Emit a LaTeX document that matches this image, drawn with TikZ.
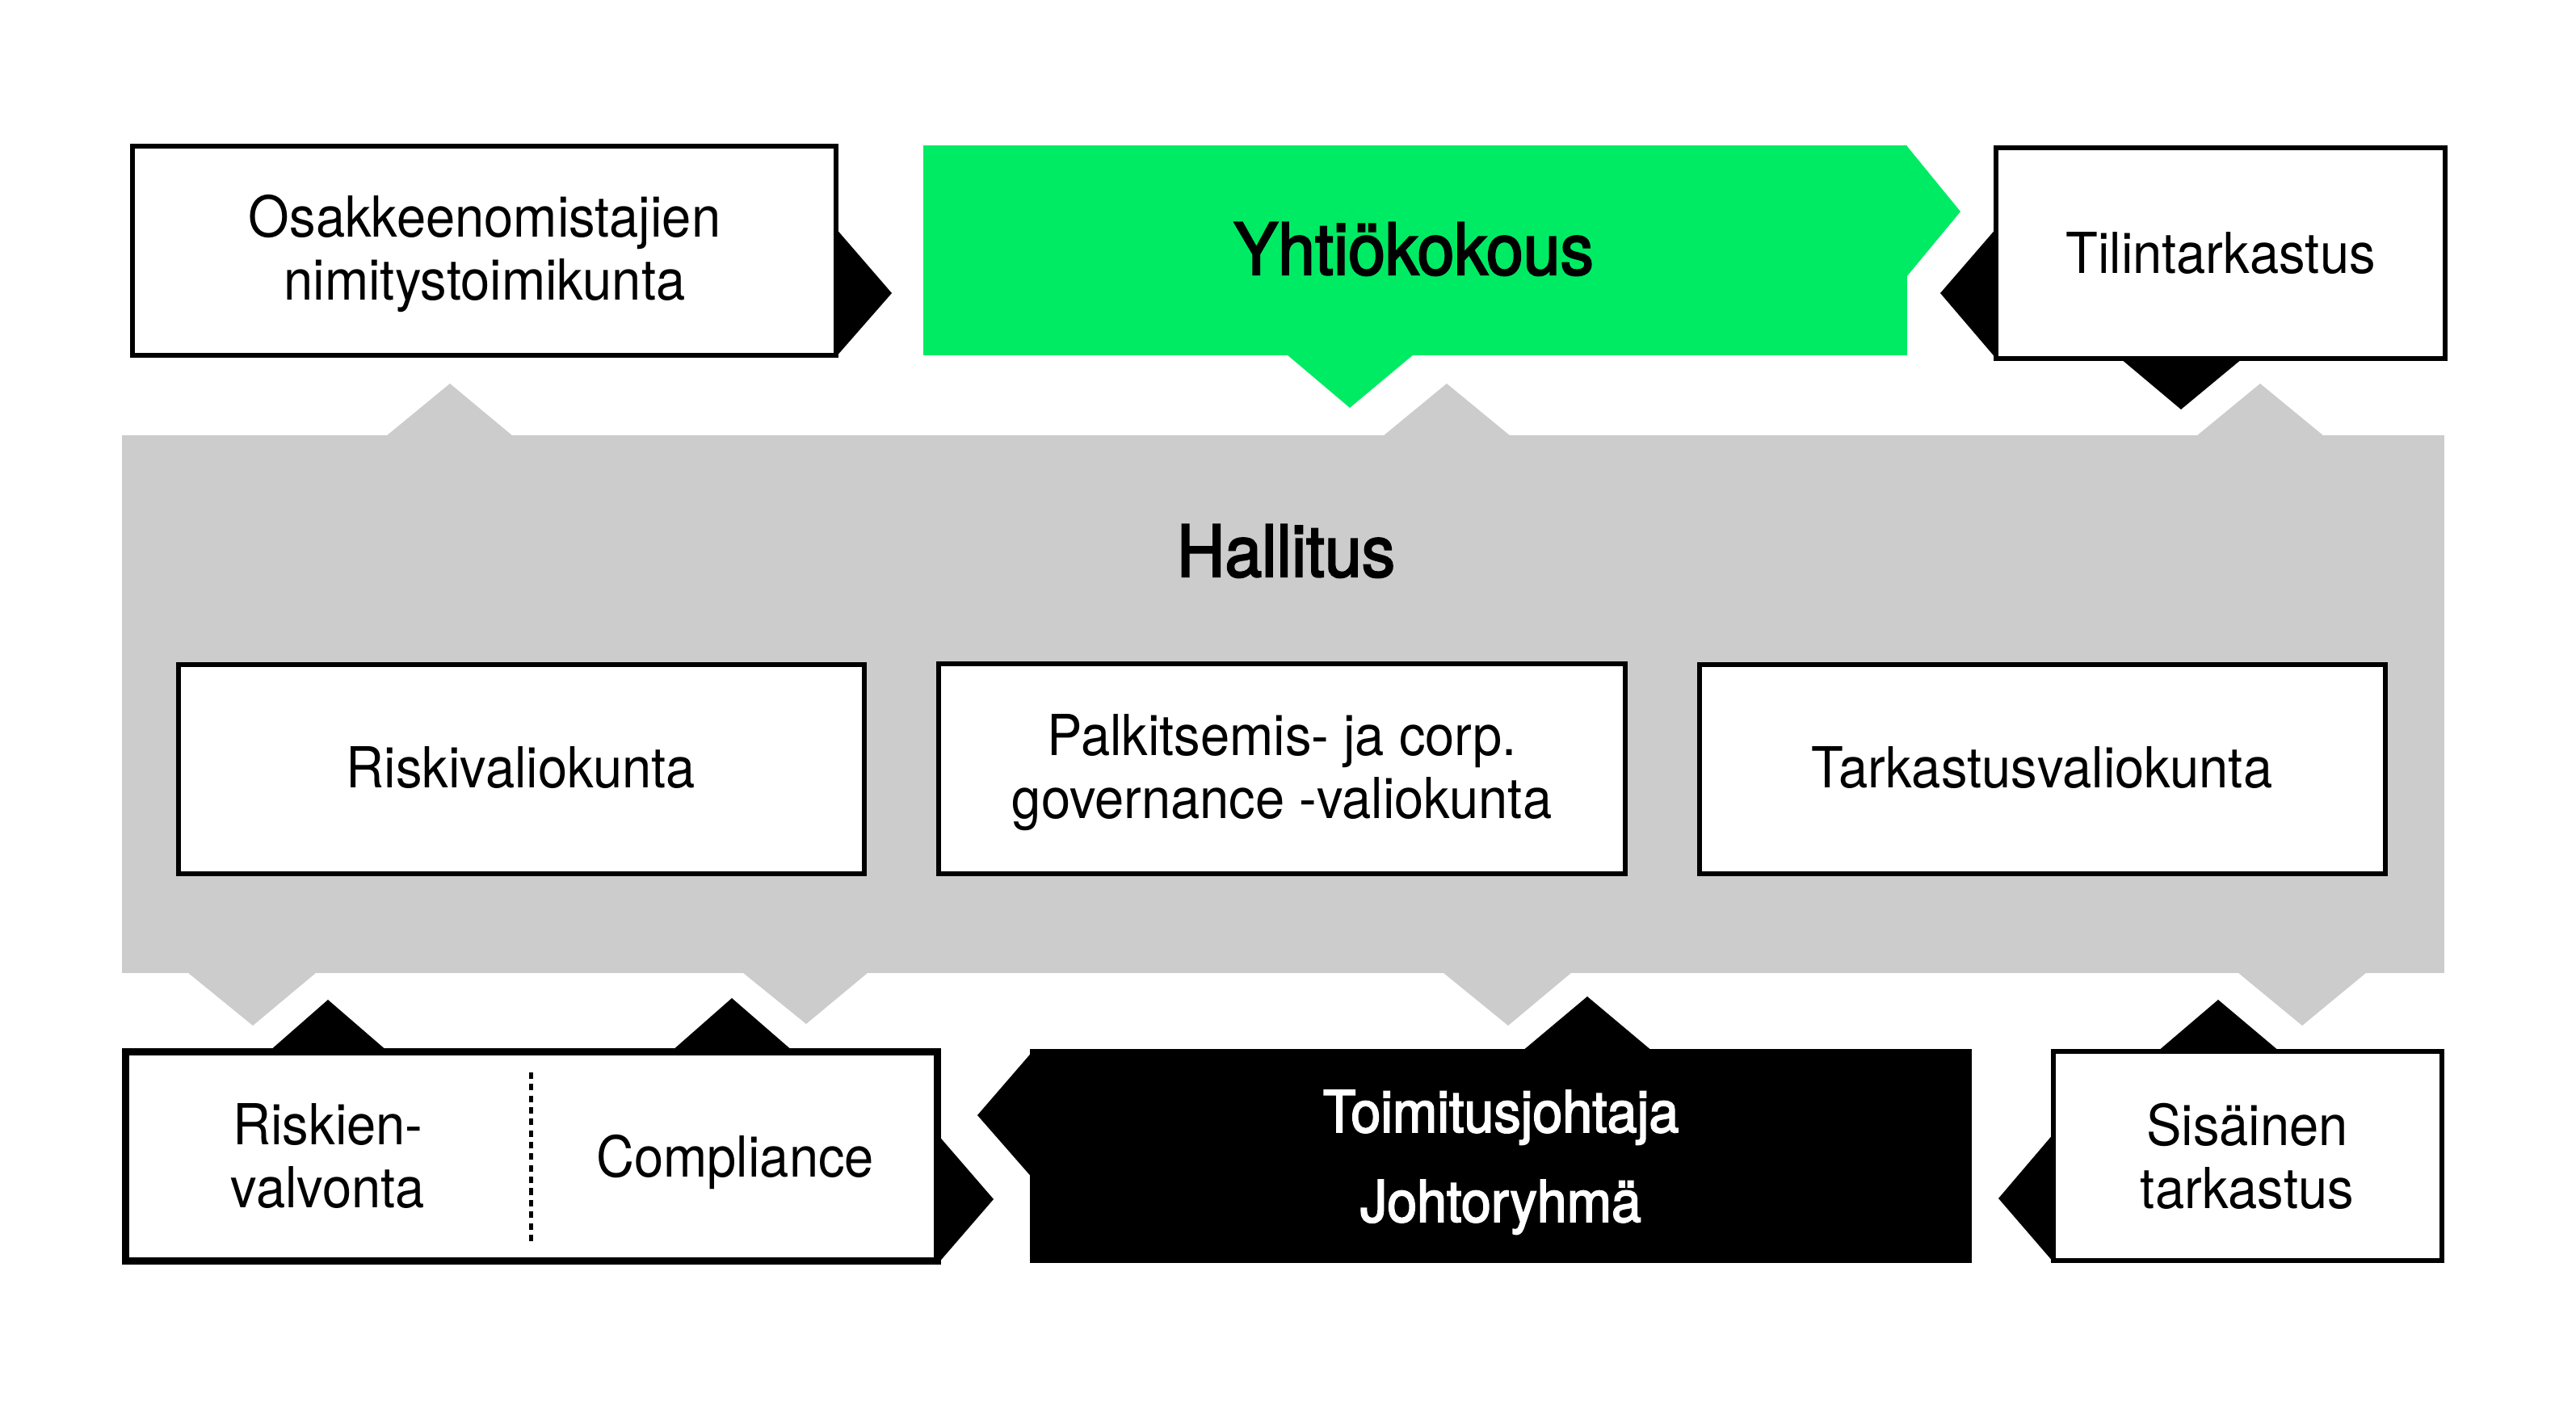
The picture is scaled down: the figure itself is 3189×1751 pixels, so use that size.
\documentclass[tikz,border=0pt]{standalone}
\usepackage{fontspec}
\setmainfont{TeX Gyre Heros}[FakeStretch=0.93]
\newfontfamily\medfont{TeX Gyre Heros}[FakeStretch=0.93,FakeBold=2.5]
\newdimen\pxu \pxu=0.01cm
\definecolor{ygreen}{HTML}{00EB64}
\definecolor{hgray}{HTML}{CCCCCC}
\begin{document}
\begin{tikzpicture}[x=0.01cm,y=-0.01cm,
  box/.style={draw=black,line width=6\pxu,fill=white,inner sep=0pt},
  lbl/.style={anchor=base,inner sep=0pt,font=\fontsize{19.9}{22}\selectfont},
  head/.style={anchor=base,inner sep=0pt,font=\medfont\fontsize{25.2}{28}\selectfont},
  lead/.style={anchor=base,inner sep=0pt,text=white,font=\medfont\fontsize{20.3}{22}\selectfont},
  tipblk/.style={fill=black},
  tipgry/.style={fill=hgray},
  tipgrn/.style={fill=ygreen},
]
\useasboundingbox (0,0) rectangle (3189,1751);

% Hallitus band
\node[fill=hgray,inner sep=0pt,minimum width=2875\pxu,minimum height=666\pxu] (hall) at (1588.5,872) {};
\fill[tipgry] (478,540) -- (557,475) -- (635,540) -- cycle;
\fill[tipgry] (1712,540) -- (1791,475) -- (1870,540) -- cycle;
\fill[tipgry] (2719,540) -- (2798,475) -- (2877,540) -- cycle;
\fill[tipgry] (232,1204) -- (313,1270) -- (392,1204) -- cycle;
\fill[tipgry] (919,1204) -- (998,1268) -- (1075,1204) -- cycle;
\fill[tipgry] (1786,1204) -- (1867,1270) -- (1946,1204) -- cycle;
\fill[tipgry] (2770,1204) -- (2850,1270) -- (2930,1204) -- cycle;

% Yhtiokokous
\node[fill=ygreen,inner sep=0pt,minimum width=1218\pxu,minimum height=260\pxu] (yht) at (1752,310) {};
\fill[tipgrn] (2360,180) -- (2427,262) -- (2360,343) -- cycle;
\fill[tipgrn] (1593,439) -- (1671,505) -- (1750,439) -- cycle;

% black tips of top row
\fill[tipblk] (1034,282) -- (1104,363) -- (1034,443) -- cycle;
\fill[tipblk] (2472,282) -- (2402,363) -- (2472,445) -- cycle;
\fill[tipblk] (2625,444) -- (2700,507) -- (2776,444) -- cycle;

% black tips of bottom row
\fill[tipblk] (333,1302) -- (406,1238) -- (480,1302) -- cycle;
\fill[tipblk] (831,1302) -- (906,1236) -- (982,1302) -- cycle;
\fill[tipblk] (1884,1302) -- (1965,1234) -- (2046,1302) -- cycle;
\fill[tipblk] (2671,1302) -- (2746,1238) -- (2822,1302) -- cycle;
\fill[tipblk] (1160,1404) -- (1230,1485) -- (1160,1566) -- cycle;
\fill[tipblk] (1280,1300) -- (1210,1381) -- (1280,1461) -- cycle;
\fill[tipblk] (2543,1403) -- (2474,1484) -- (2543,1564) -- cycle;

% boxes
\node[box,minimum width=871\pxu,minimum height=259\pxu] (osak) at (599.5,310.5) {};
\node[box,minimum width=556\pxu,minimum height=261\pxu] (tilin) at (2749,313.5) {};
\node[box,minimum width=849\pxu,minimum height=259\pxu] (riski) at (645.5,952.5) {};
\node[box,minimum width=850\pxu,minimum height=260\pxu] (palk) at (1587,951.5) {};
\node[box,minimum width=849\pxu,minimum height=259\pxu] (tark) at (2528.5,952.5) {};
\node[box,line width=9\pxu,minimum width=1005\pxu,minimum height=259\pxu] (rc) at (658,1432) {};
\node[fill=black,inner sep=0pt,minimum width=1166\pxu,minimum height=265\pxu] (toim) at (1858,1431.5) {};
\node[box,minimum width=481\pxu,minimum height=259\pxu] (sis) at (2782.5,1431.5) {};

% dashed divider
\coordinate (dtop) at (657,1328);
\coordinate (dbot) at (657,1537);
\draw[line width=1.42pt,dash pattern=on 2.28pt off 1.8pt] (dtop) -- (dbot);

% texts
\node[lbl] (osakA) at (600,293) {Osakkeenomistajien};
\node[lbl] (osakB) at (600,371) {nimitystoimikunta};
\node[head] (yhtT) at (1750,340) {Yhtiökokous};
\node[lbl] (tilinT) at (2749,338) {Tilintarkastus};
\node[head] (hallT) at (1592,714) {Hallitus};
\node[lbl] (riskiT) at (645,975) {Riskivaliokunta};
\node[lbl] (palkA) at (1587,935) {Palkitsemis- ja corp.};
\node[lbl] (palkB) at (1587,1013) {governance -valiokunta};
\node[lbl] (tarkT) at (2528,975) {Tarkastusvaliokunta};
\node[lbl] (rcA) at (406,1417) {Riskien-};
\node[lbl] (rcB) at (406,1495) {valvonta};
\node[lbl] (rcC) at (910,1457) {Compliance};
\node[lead] (toimA) at (1858,1402) {Toimitusjohtaja};
\node[lead] (toimB) at (1858,1513) {Johtoryhmä};
\node[lbl] (sisA) at (2782,1418) {Sisäinen};
\node[lbl] (sisB) at (2782,1496) {tarkastus};
\end{tikzpicture}
\end{document}
